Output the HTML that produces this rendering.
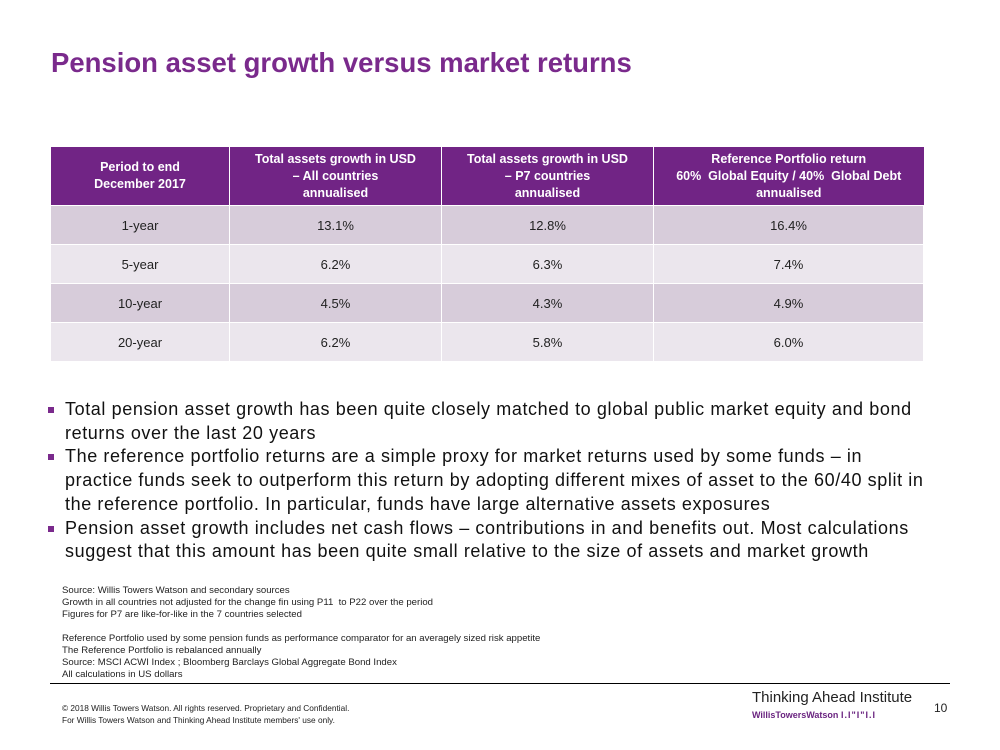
<!DOCTYPE html>
<html><head><meta charset="utf-8"><style>
body{margin:0;width:1000px;height:750px;background:#fff;position:relative;font-family:"Liberation Sans",sans-serif;overflow:hidden}
.a{position:absolute}
h1{position:absolute;left:51px;top:47px;margin:0;font-size:27.5px;font-weight:bold;color:#7a2a8c}
table{position:absolute;left:51px;top:147px;border-collapse:collapse;width:873px}
th{background:#712485;color:#fff;font-size:12.5px;font-weight:bold;height:58px;padding:0 4px;border-right:1px solid #fff;line-height:17px}
td{text-align:center;font-size:13px;color:#222;height:38px;padding:0;border-right:1px solid #fff;border-top:1px solid #fff}
tr.o td{background:#d7ccda}tr.e td{background:#ebe6ed}
ul{position:absolute;left:46px;top:398px;margin:0;padding:0;list-style:none;width:878px}
li{font-size:18px;letter-spacing:0.6px;line-height:23.7px;color:#111;padding-left:19px;position:relative}
li:before{content:"";position:absolute;left:2px;top:9px;width:6px;height:6px;background:#7a2a8c}
.s{left:62px;top:585px;font-size:9.6px;line-height:12px;color:#222}
.f{left:62px;top:702px;font-size:8.3px;line-height:12px;color:#222}
</style></head><body>
<h1>Pension asset growth versus market returns</h1>
<table>
<tr><th style="width:170px">Period to end<br>December 2017</th><th style="width:203px">Total assets growth in USD<br>– All countries<br>annualised</th><th style="width:203px">Total assets growth in USD<br>– P7 countries<br>annualised</th><th style="border-right:none">Reference Portfolio return<br>60% &nbsp;Global Equity / 40% &nbsp;Global Debt<br>annualised</th></tr>
<tr class="o"><td>1-year</td><td>13.1%</td><td>12.8%</td><td>16.4%</td></tr>
<tr class="e"><td>5-year</td><td>6.2%</td><td>6.3%</td><td>7.4%</td></tr>
<tr class="o"><td>10-year</td><td>4.5%</td><td>4.3%</td><td>4.9%</td></tr>
<tr class="e"><td>20-year</td><td>6.2%</td><td>5.8%</td><td>6.0%</td></tr>
</table>
<ul>
<li>Total pension asset growth has been quite closely matched to global public market equity and bond returns over the last 20 years</li>
<li>The reference portfolio returns are a simple proxy for market returns used by some funds – in practice funds seek to outperform this return by adopting different mixes of asset to the 60/40 split in the reference portfolio. In particular, funds have large alternative assets exposures</li>
<li>Pension asset growth includes net cash flows – contributions in and benefits out. Most calculations suggest that this amount has been quite small relative to the size of assets and market growth</li>
</ul>
<div class="a s">Source: Willis Towers Watson and secondary sources<br>Growth in all countries not adjusted for the change fin using P11 &nbsp;to P22 over the period<br>Figures for P7 are like-for-like in the 7 countries selected<br><br>Reference Portfolio used by some pension funds as performance comparator for an averagely sized risk appetite<br>The Reference Portfolio is rebalanced annually<br>Source: MSCI ACWI Index ; Bloomberg Barclays Global Aggregate Bond Index<br>All calculations in US dollars</div>
<div class="a" style="left:50px;top:683px;width:900px;height:1px;background:#000"></div>
<div class="a f">© 2018 Willis Towers Watson. All rights reserved. Proprietary and Confidential.<br>For Willis Towers Watson and Thinking Ahead Institute members' use only.</div>
<div class="a" style="left:752px;top:689px;font-size:15px;color:#222">Thinking Ahead Institute</div>
<div class="a" style="left:752px;top:710px;font-size:9px;font-weight:bold;color:#6a2480">WillisTowersWatson <span style="letter-spacing:1px">I.I"I"I.I</span></div>
<div class="a" style="left:934px;top:701px;font-size:12px;color:#222">10</div>
</body></html>
